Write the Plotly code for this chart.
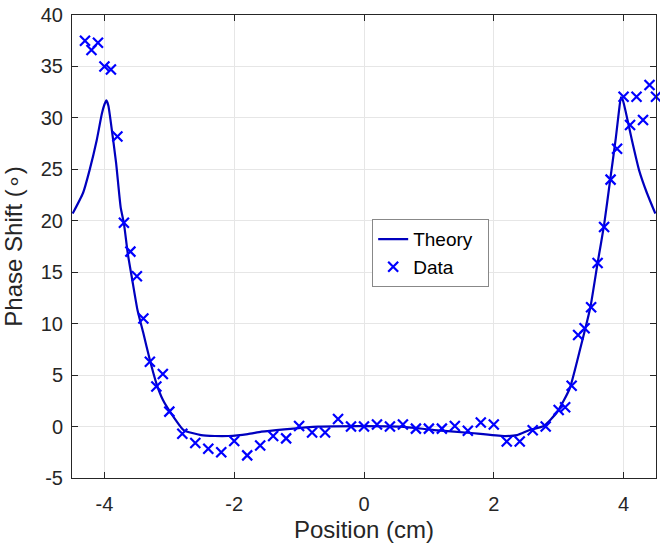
import plotly.graph_objects as go

# Theory curve
theory_x = [-4.49, -4.33, -4.23, -4.12, -4.04, -4.00, -3.97, -3.94, -3.90, -3.82, -3.75, -3.70,
            -3.64, -3.57, -3.49, -3.40, -3.30, -3.20, -3.10, -2.99, -2.78, -2.51, -2.30, -2.09,
            -1.79, -1.58, -1.23, -0.71, 0.0, 0.57, 1.08, 1.60, 2.16, 2.36, 2.55, 2.77, 2.98,
            3.17, 3.34, 3.49, 3.60, 3.70, 3.79, 3.88, 3.93, 3.96, 3.99, 4.04, 4.13, 4.24, 4.36, 4.49]
theory_y = [20.7, 22.7, 24.9, 27.8, 30.4, 31.3, 31.7, 31.2, 29.5, 25.6, 21.3, 19.75,
            16.8, 14.2, 11.3, 9.06, 6.46, 4.2, 2.6, 1.45, -0.34, -0.83, -0.92, -0.92,
            -0.73, -0.5, -0.27, 0.0, 0.05, 0.0, -0.34, -0.6, -0.92, -0.83, -0.34, 0.05, 1.44,
            3.7, 7.76, 11.65, 15.9, 19.6, 23.8, 28.0, 30.7, 32.0, 31.7, 30.4, 27.8, 24.9, 22.7, 20.7]

# Measured data
data_x = [-4.3, -4.2, -4.1, -4.0, -3.9, -3.8, -3.7, -3.6, -3.5, -3.4, -3.3, -3.2, -3.1, -3.0,
          -2.8, -2.6, -2.4, -2.2, -2.0, -1.8, -1.6, -1.4, -1.2, -1.0, -0.8, -0.6, -0.4, -0.2,
          0.0, 0.2, 0.4, 0.6, 0.8, 1.0, 1.2, 1.4, 1.6, 1.8, 2.0, 2.2, 2.4, 2.6, 2.8,
          3.0, 3.1, 3.2, 3.3, 3.4, 3.5, 3.6, 3.7, 3.8, 3.9, 4.0, 4.1, 4.2, 4.3, 4.4, 4.5]
data_y = [37.5, 36.6, 37.3, 35.0, 34.7, 28.2, 19.8, 17.0, 14.6, 10.5, 6.3, 3.9, 5.1, 1.45,
          -0.7, -1.6, -2.15, -2.5, -1.4, -2.8, -1.85, -0.92, -1.15, 0.05, -0.57, -0.57, 0.73, 0.0,
          0.0, 0.2, 0.0, 0.2, -0.2, -0.2, -0.2, 0.05, -0.4, 0.4, 0.2, -1.45, -1.45, -0.35, 0.0,
          1.6, 1.87, 3.97, 8.9, 9.55, 11.6, 15.9, 19.4, 24.0, 27.0, 32.05, 29.3, 32.05, 29.8, 33.2, 32.05]

x_ticks = [-4, -2, 0, 2, 4]
y_ticks = [-5, 0, 5, 10, 15, 20, 25, 30, 35, 40]

fig = go.Figure()
fig.add_trace(go.Scatter(x=theory_x, y=theory_y, mode="lines", name="Theory\u00a0\u00a0",
                         line=dict(color="rgb(0,0,190)", width=2.2, shape="spline", smoothing=0.5)))
fig.add_trace(go.Scatter(x=data_x, y=data_y, mode="markers", name="Data", cliponaxis=False,
                         marker=dict(symbol="x-thin", size=10, color="rgb(0,0,255)",
                                     line=dict(color="rgb(0,0,255)", width=2.2))))

font_family = "Liberation Sans, Arial, Helvetica, sans-serif"
axis_common = dict(showline=True, linecolor="#262626", linewidth=1, mirror="ticks",
                   ticks="inside", ticklen=6, tickcolor="#262626", tickwidth=1,
                   showgrid=True, gridcolor="#e6e6e6", gridwidth=1, zeroline=False,
                   automargin=False,
                   tickfont=dict(size=20, color="#262626", family=font_family))

fig.update_layout(
    width=660, height=543,
    margin=dict(l=72, r=4, t=15, b=65),
    paper_bgcolor="white", plot_bgcolor="white",
    font=dict(family=font_family, color="#262626"),
    showlegend=True,
    legend=dict(x=0.514, y=0.559, xanchor="left", yanchor="top",
                bgcolor="white", bordercolor="#888888", borderwidth=1,
                font=dict(size=19, color="black", family=font_family),
                tracegroupgap=0, itemwidth=30),
)
fig.update_xaxes(range=[-4.5, 4.5], tickvals=x_ticks, ticktext=[str(v) for v in x_ticks],
                 ticklabelstandoff=8,
                 title=dict(text="Position (cm)", font=dict(size=24, family=font_family), standoff=12),
                 **axis_common)
fig.update_yaxes(range=[-5, 40], tickvals=y_ticks, ticktext=[str(v) for v in y_ticks],
                 ticklabelstandoff=4,
                 title=dict(text="Phase Shift (∘)", font=dict(size=24, family=font_family), standoff=14),
                 **axis_common)

fig.write_html("out.html", config={"displayModeBar": False},
               post_script="document.body.style.margin='0';document.body.style.padding='0';")
